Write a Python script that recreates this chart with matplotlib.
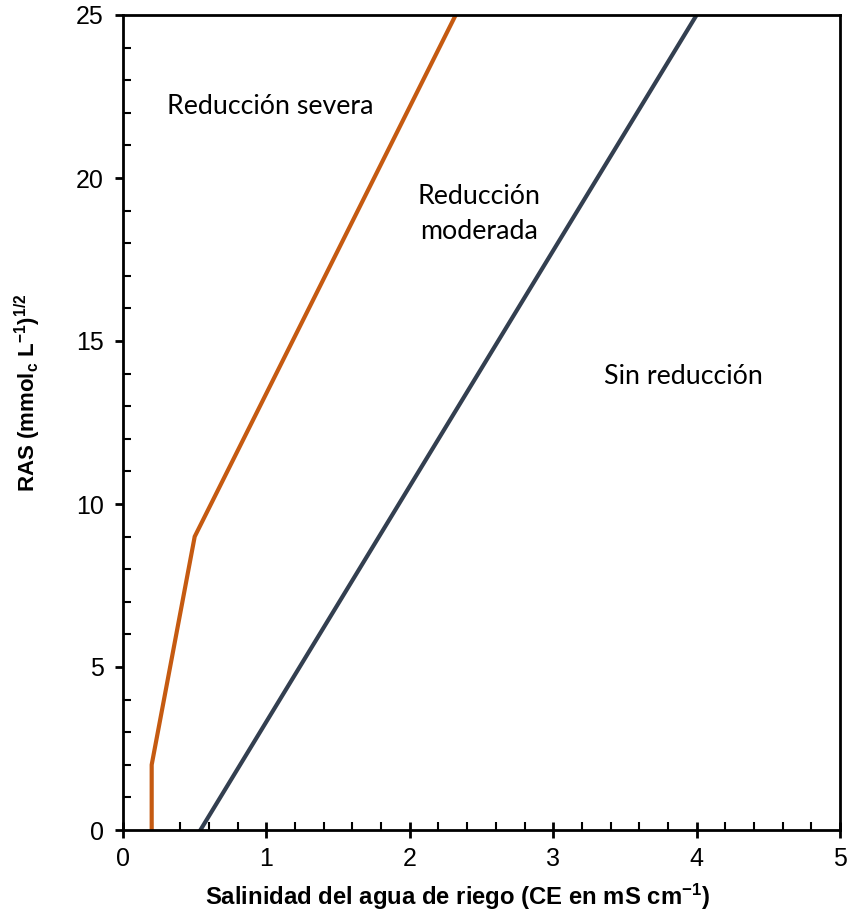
import matplotlib
matplotlib.use("Agg")
import matplotlib.pyplot as plt
from matplotlib.ticker import MultipleLocator

# data
severa_x = [0.2, 0.2, 0.5, 2.32]
severa_y = [0, 2, 9, 25]
moderada_x = [0.54, 4.0]
moderada_y = [0, 25]
region_labels = ["Reducción severa", "Reducción\nmoderada", "Sin reducción"]
region_x = [1.03, 2.48, 3.91]
region_y = [22.2, 18.9, 13.9]

plt.rcParams['font.family'] = ['Liberation Sans', 'DejaVu Sans']
plt.rcParams['mathtext.fontset'] = 'custom'
plt.rcParams['mathtext.rm'] = 'Liberation Sans'
plt.rcParams['mathtext.bf'] = 'Liberation Sans:bold'
plt.rcParams['mathtext.it'] = 'Liberation Sans:italic'
plt.rcParams['mathtext.default'] = 'bf'

fig = plt.figure(figsize=(8.5, 9.17), dpi=100)
ax = fig.add_axes([123/850, 1-830/917, (840-123)/850, (830-15)/917])

ax.plot(severa_x, severa_y, color='#C55A11', lw=3, solid_joinstyle='miter')
ax.plot(moderada_x, moderada_y, color='#333F50', lw=3)

for t, x, y in zip(region_labels, region_x, region_y):
    ax.text(x, y, t, ha='center', va='center', fontsize=19.3, family=['Lato', 'DejaVu Sans'],
            linespacing=1.5)

ax.set_xlim(0, 5)
ax.set_ylim(0, 25)
ax.xaxis.set_major_locator(MultipleLocator(1))
ax.xaxis.set_minor_locator(MultipleLocator(0.2))
ax.yaxis.set_major_locator(MultipleLocator(5))
ax.yaxis.set_minor_locator(MultipleLocator(1))

ax.tick_params(axis='x', which='major', direction='inout', length=12, width=2, labelsize=18, pad=6)
ax.tick_params(axis='x', which='minor', direction='in', length=6, width=1.5)
ax.tick_params(axis='y', which='major', direction='out', length=6, width=2, labelsize=18, pad=8)
ax.tick_params(axis='y', which='minor', direction='in', length=6, width=1.5)
for s in ax.spines.values():
    s.set_linewidth(2)

ax.set_xlabel('Salinidad del agua de riego (CE en mS cm$^{-1}$)', fontsize=17.2, fontweight='bold')
ax.xaxis.set_label_coords(0.467, -0.064)
ax.set_ylabel('RAS (mmol$_{c}$ L$^{-1}$)$^{1/2}$', fontsize=16, fontweight='bold')
ax.yaxis.set_label_coords(-0.111, 0.537)

fig.savefig('out.png', dpi=100)
